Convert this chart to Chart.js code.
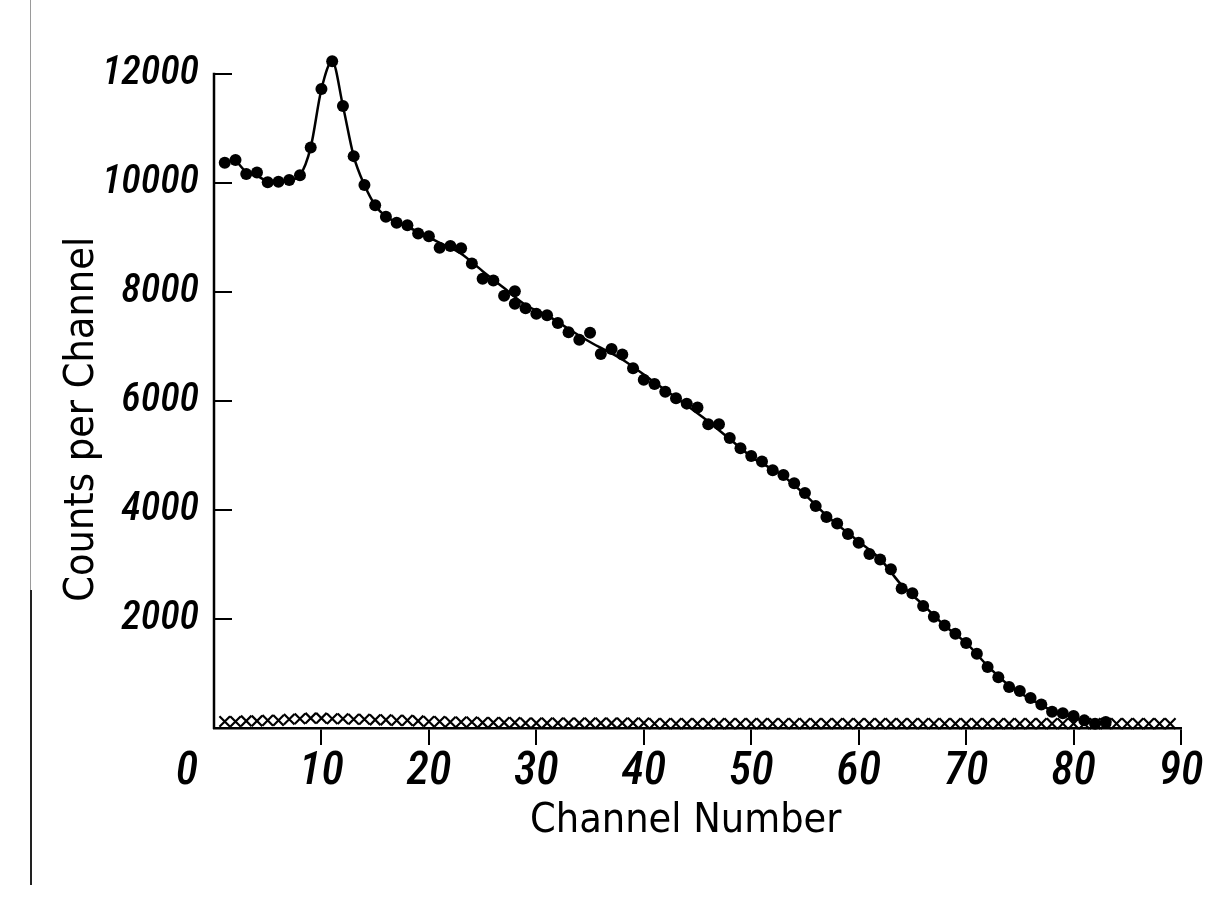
<!DOCTYPE html>
<html>
<head>
<meta charset="utf-8">
<script src="https://cdn.jsdelivr.net/npm/chart.js@4.4.0/dist/chart.umd.min.js"></script>
<style>
  html, body { margin: 0; padding: 0; background: #fff; }
  #wrap { position: relative; width: 1206px; height: 897px; background: #fff; }
  #edgeTop { position: absolute; left: 30px; top: 0; width: 1px; height: 590px; background: #9a9a9a; }
  #edgeBottom { position: absolute; left: 30px; top: 590px; width: 2px; height: 295px; background: #222; }
</style>
</head>
<body>
<div id="wrap">
  <canvas id="c" width="1206" height="897"></canvas>
  <div id="edgeTop"></div>
  <div id="edgeBottom"></div>
</div>
<script>
// ---- Data ----
const dotChannels = [1,2,3,4,5,6,7,8,9,10,11,12,13,14,15,16,17,18,19,20,21,22,23,24,25,26,27,28,28,29,30,31,32,33,34,35,36,37,38,39,40,41,42,43,44,45,46,47,48,49,50,51,52,53,54,55,56,57,58,59,60,61,62,63,64,65,66,67,68,69,70,71,72,73,74,75,76,77,78,79,80,81,82,83];
const dotCounts = [10370,10420,10160,10190,10010,10020,10050,10140,10650,11720,12230,11410,10490,9960,9590,9380,9270,9220,9070,9020,8810,8840,8800,8520,8240,8210,7930,8010,7780,7700,7600,7570,7430,7260,7120,7250,6860,6950,6850,6600,6390,6310,6170,6050,5950,5880,5570,5570,5320,5130,4990,4890,4730,4640,4490,4310,4070,3870,3750,3560,3400,3190,3090,2910,2560,2470,2240,2040,1880,1730,1560,1360,1120,930,750,680,550,430,300,270,220,140,80,110];

const curveChannels = [2,3,4,5,6,7,8,9,10,11,12,13,14,15,16,17,19,21,23,25,27,29,31,33,35,38,41,43,45.5,48,50.2,53,55,57,60,62,64,66,68,70,72,74,76,78,80,82,83.5];
const curveCounts = [10420,10200,10130,10030,10020,10050,10140,10650,11720,12230,11410,10490,9960,9590,9380,9280,9100,8900,8700,8380,8070,7760,7570,7320,7080,6760,6340,6060,5700,5300,4950,4620,4280,3900,3420,3100,2620,2260,1880,1560,1140,780,530,320,190,90,50];

const crossChannels = [1,2,3,4,5,6,7,8,9,10,11,12,13,14,15,16,17,18,19,20,21,22,23,24,25,26,27,28,29,30,31,32,33,34,35,36,37,38,39,40,41,42,43,44,45,46,47,48,49,50,51,52,53,54,55,56,57,58,59,60,61,62,63,64,65,66,67,68,69,70,71,72,73,74,75,76,77,78,79,80,81,82,83,84,85,86,87,88,89];
const crossCounts = [120,120,130,130,140,140,160,170,180,180,170,170,160,160,150,150,140,140,130,120,120,110,110,110,100,100,100,100,90,90,90,90,90,90,90,90,90,90,90,90,80,80,80,80,80,80,80,80,80,80,80,80,80,80,80,80,80,80,80,80,80,80,80,80,80,80,80,80,80,80,80,80,80,80,80,80,80,80,80,80,80,80,80,80,80,80,80,80,80];

const xTickLabels = ['0','10','20','30','40','50','60','70','80','90'];
const yTickLabels = ['0','2000','4000','6000','8000','10000','12000'];

const xTitle = 'Channel Number';
const yTitle = 'Counts per Channel';

// ---- Build library data ----
const toPts = (xs, ys) => xs.map((x, i) => ({ x: x, y: ys[i] }));
const yTickValues = yTickLabels.map(Number);
const xTickValues = xTickLabels.map(Number);

const tickFontX = { family: '"Roboto Condensed", "Liberation Sans", sans-serif', size: 46, style: 'italic', weight: 500, lineHeight: 1.2 };
const tickFontY = { family: '"Roboto Condensed", "Liberation Sans", sans-serif', size: 40, style: 'italic', weight: 500, lineHeight: 1.2 };
const titleFont = { family: '"DejaVu Sans Condensed", "DejaVu Sans", sans-serif', size: 41, lineHeight: 1.2 };

const axisExtras = {
  id: 'axisExtras',
  afterDraw(chart) {
    const { ctx } = chart;
    const x = chart.scales.x, y = chart.scales.y;
    ctx.save();
    ctx.strokeStyle = '#000';
    ctx.lineWidth = 2.5;
    // vertical axis line from 0 to the top labelled value
    const topVal = yTickValues[yTickValues.length - 1];
    ctx.beginPath();
    ctx.moveTo(x.left, y.getPixelForValue(0) + 1);
    ctx.lineTo(x.left, y.getPixelForValue(topVal) - 1);
    ctx.stroke();
    ctx.lineWidth = 2;
    // inward tick marks on the vertical axis
    y.ticks.forEach(t => {
      if (t.value === 0) return;
      const py = Math.round(y.getPixelForValue(t.value));
      ctx.beginPath();
      ctx.moveTo(x.left, py);
      ctx.lineTo(x.left + 18, py);
      ctx.stroke();
    });
    // origin label placed left of the corner, as in the original
    ctx.font = 'italic ' + tickFontX.weight + ' ' + tickFontX.size + 'px ' + tickFontX.family;
    ctx.fillStyle = '#000';
    ctx.textAlign = 'center';
    ctx.textBaseline = 'middle';
    const ly = x.top + x.options.grid.tickLength + x.options.ticks.padding + tickFontX.size * tickFontX.lineHeight / 2;
    ctx.fillText(xTickLabels[0], x.getPixelForValue(0) - 27, ly);
    ctx.restore();
  }
};

new Chart(document.getElementById('c'), {
  type: 'scatter',
  data: {
    datasets: [
      {
        label: 'fit',
        data: toPts(curveChannels, curveCounts),
        showLine: true,
        borderColor: '#000',
        borderWidth: 2.5,
        pointRadius: 0,
        cubicInterpolationMode: 'monotone',
        clip: false,
        order: 3
      },
      {
        label: 'counts',
        data: toPts(dotChannels, dotCounts),
        showLine: false,
        pointRadius: 6,
        pointBackgroundColor: '#000',
        pointBorderWidth: 0,
        clip: false,
        order: 1
      },
      {
        label: 'background',
        data: toPts(crossChannels, crossCounts),
        showLine: false,
        pointStyle: 'crossRot',
        pointRadius: 7.5,
        pointBorderColor: '#000',
        pointBorderWidth: 2.2,
        clip: false,
        order: 2
      }
    ]
  },
  options: {
    responsive: false,
    devicePixelRatio: 1,
    animation: false,
    layout: { padding: { top: 52, right: 25, left: 0, bottom: 0 } },
    plugins: { legend: { display: false }, tooltip: { enabled: false } },
    scales: {
      x: {
        type: 'linear',
        min: 0, max: 90,
        afterFit: s => { s.height = 169; },
        afterBuildTicks: s => { s.ticks = xTickValues.map(v => ({ value: v })); },
        ticks: {
          padding: 0,
          color: '#000',
          font: tickFontX,
          maxRotation: 0,
          autoSkip: false,
          callback: (v) => v === 0 ? '' : xTickLabels[xTickValues.indexOf(v)]
        },
        grid: {
          drawOnChartArea: false,
          drawTicks: true,
          tickLength: 17,
          lineWidth: 2,
          color: (c) => (c.tick && c.tick.value === 0) ? 'rgba(0,0,0,0)' : '#000'
        },
        border: { display: true, color: '#000', width: 2.5 },
        title: { display: true, text: xTitle + '  ', color: '#000', font: titleFont, padding: { top: 0, bottom: 51 } }
      },
      y: {
        type: 'linear',
        min: 0, max: 12400,
        afterFit: s => { s.width = 214; },
        afterBuildTicks: s => { s.ticks = yTickValues.map(v => ({ value: v })); },
        ticks: {
          padding: 15,
          color: '#000',
          font: tickFontY,
          autoSkip: false,
          callback: (v) => v === 0 ? '' : yTickLabels[yTickValues.indexOf(v)]
        },
        grid: { drawOnChartArea: false, drawTicks: false },
        border: { display: false },
        title: { display: true, text: yTitle + '     ', color: '#000', font: titleFont, padding: { top: 58, bottom: 0 } }
      }
    }
  },
  plugins: [axisExtras]
});
</script>
</body>
</html>
